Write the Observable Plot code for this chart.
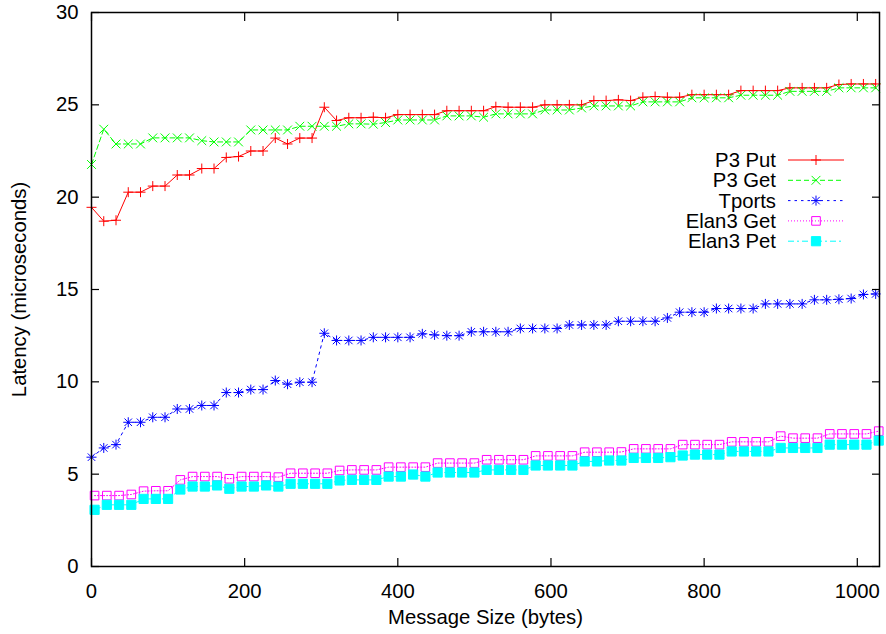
<!DOCTYPE html>
<html><head><meta charset="utf-8">
<script src="https://cdn.jsdelivr.net/npm/d3@7"></script>
<script src="https://cdn.jsdelivr.net/npm/@observablehq/plot@0.6"></script>
<style>
body{margin:0;background:#fff;}
#wrap{position:relative;width:886px;height:634px;font-family:"Liberation Sans",Arial,sans-serif;}
#legend{position:absolute;left:680px;top:150px;}
</style></head><body><div id="wrap"></div>
<script>
const sizes = [0,16,32,48,64,80,96,112,128,144,160,176,192,208,224,240,256,272,288,304,320,336,352,368,384,400,416,432,448,464,480,496,512,528,544,560,576,592,608,624,640,656,672,688,704,720,736,752,768,784,800,816,832,848,864,880,896,912,928,944,960,976,992,1008,1024];
const elanSizes = [4,20,36,52,68,84,100,116,132,148,164,180,196,212,228,244,260,276,292,308,324,340,356,372,388,404,420,436,452,468,484,500,516,532,548,564,580,596,612,628,644,660,676,692,708,724,740,756,772,788,804,820,836,852,868,884,900,916,932,948,964,980,996,1012,1028];

const p3Put = [19.45,18.7,18.75,20.27,20.27,20.6,20.6,21.2,21.2,21.55,21.55,22.15,22.2,22.5,22.5,23.2,22.88,23.2,23.2,24.87,24.15,24.3,24.3,24.33,24.3,24.47,24.47,24.47,24.47,24.68,24.68,24.68,24.68,24.9,24.87,24.87,24.87,25.0,25.0,25.0,25.0,25.23,25.23,25.27,25.23,25.41,25.45,25.41,25.41,25.55,25.55,25.55,25.55,25.77,25.77,25.77,25.77,25.92,25.92,25.92,25.92,26.1,26.13,26.13,26.13];
const p3Get = [21.77,23.68,22.88,22.88,22.88,23.21,23.21,23.21,23.21,23.06,22.99,22.99,22.99,23.64,23.64,23.64,23.64,23.84,23.84,23.84,23.84,23.97,23.97,23.95,24.04,24.18,24.18,24.18,24.18,24.4,24.4,24.4,24.33,24.51,24.51,24.51,24.51,24.72,24.72,24.72,24.83,24.94,24.94,24.94,24.94,25.16,25.16,25.16,25.16,25.38,25.38,25.38,25.38,25.52,25.52,25.52,25.52,25.73,25.73,25.73,25.73,25.92,25.92,25.92,25.92];
const tports = [5.92,6.42,6.6,7.81,7.81,8.08,8.08,8.53,8.53,8.72,8.72,9.42,9.42,9.58,9.58,10.07,9.87,9.98,9.98,12.63,12.24,12.24,12.24,12.41,12.41,12.41,12.41,12.6,12.54,12.5,12.5,12.71,12.71,12.71,12.71,12.89,12.89,12.89,12.89,13.08,13.08,13.08,13.08,13.28,13.28,13.28,13.28,13.46,13.77,13.77,13.77,13.97,13.97,13.97,13.97,14.22,14.22,14.22,14.22,14.44,14.44,14.47,14.51,14.73,14.76];
const elan3Get = [3.84,3.84,3.84,3.9,4.08,4.1,4.1,4.69,4.87,4.87,4.87,4.75,4.87,4.87,4.87,4.84,5.05,5.05,5.05,5.05,5.2,5.23,5.23,5.23,5.38,5.38,5.38,5.38,5.6,5.6,5.6,5.6,5.78,5.78,5.78,5.78,5.99,5.99,5.99,5.99,6.19,6.19,6.19,6.2,6.37,6.37,6.37,6.37,6.6,6.6,6.6,6.6,6.75,6.75,6.75,6.75,7.06,6.95,6.95,6.95,7.18,7.18,7.18,7.18,7.33];
const elan3Pet = [3.07,3.34,3.34,3.34,3.66,3.66,3.66,4.17,4.33,4.33,4.39,4.21,4.33,4.33,4.39,4.33,4.48,4.48,4.48,4.48,4.66,4.69,4.69,4.69,4.87,4.87,4.98,4.87,5.09,5.09,5.09,5.09,5.23,5.23,5.23,5.23,5.47,5.47,5.47,5.47,5.69,5.69,5.74,5.74,5.88,5.88,5.88,5.92,6.01,6.06,6.06,6.06,6.23,6.23,6.23,6.23,6.42,6.42,6.42,6.42,6.6,6.6,6.6,6.6,6.82];

const xTicks = [0,200,400,600,800,1000];
const yTicks = [0,5,10,15,20,25,30];
const seriesNames = ["P3 Put","P3 Get","Tports","Elan3 Get","Elan3 Pet"];

const FONT = '"Liberation Sans", Arial, sans-serif';
const FS = 20.3;

// custom gnuplot-like point symbols
const rad = s => Math.sqrt(s / Math.PI);
const symPlus = {draw(c, s){const r = rad(s); c.moveTo(-r,0); c.lineTo(r,0); c.moveTo(0,-r); c.lineTo(0,r);}};
const symTimes = {draw(c, s){const r = rad(s)*0.8; c.moveTo(-r,-r); c.lineTo(r,r); c.moveTo(-r,r); c.lineTo(r,-r);}};
const symAst = {draw(c, s){const r = rad(s), q = r*0.75; c.moveTo(-r,0); c.lineTo(r,0); c.moveTo(0,-r); c.lineTo(0,r); c.moveTo(-q,-q); c.lineTo(q,q); c.moveTo(-q,q); c.lineTo(q,-q);}};
const symSquare = {draw(c, s){const r = rad(s); c.rect(-r,-r,2*r,2*r);}};

const styles = [
  {color:"#ff0000", dash:null, sym:symPlus, r:5, fill:"none"},
  {color:"#00ff00", dash:"5,3", sym:symTimes, r:5.5, fill:"none"},
  {color:"#0000ff", dash:"2.5,4", sym:symAst, r:5, fill:"none"},
  {color:"#ff00ff", dash:"1,2", sym:symSquare, r:4.3, fill:"none"},
  {color:"#00ffff", dash:"6,3,2,3", sym:symSquare, r:4.6, fill:"#00ffff"}
];
const seriesX = [sizes, sizes, sizes, elanSizes, elanSizes];
const seriesY = [p3Put, p3Get, tports, elan3Get, elan3Pet];

const data = seriesNames.map((name, k) => seriesY[k].map((v, i) => ({series: name, size: seriesX[k][i], latency: v})));

const marks = [];
data.forEach((rows, k) => {
  const st = styles[k];
  marks.push(Plot.line(rows, {x:"size", y:"latency", stroke: st.color, strokeWidth: 1, strokeDasharray: st.dash}));
});
data.forEach((rows, k) => {
  const st = styles[k];
  marks.push(Plot.dot(rows, {x:"size", y:"latency", symbol: st.sym, r: st.r, stroke: st.color, fill: st.fill, strokeWidth: 1}));
});

const chart = Plot.plot({
  width: 886, height: 634,
  marginLeft: 91, marginRight: 7, marginTop: 12, marginBottom: 68,
  x: {domain: [0, 1029]},
  y: {domain: [0, 30]},
  style: {fontFamily: FONT, fontSize: FS + "px", background: "white", color: "black"},
  marks: [
    ...marks,
    Plot.axisX({ticks: xTicks, tickSize: -8, tickPadding: 25, strokeWidth: 1.2, tickFormat: d => String(d), fontSize: FS, label: "Message Size (bytes)", labelAnchor: "center", labelOffset: 57, labelArrow: "none"}),
    Plot.axisX({anchor: "top", ticks: xTicks, tickSize: -8, strokeWidth: 1.2, tickFormat: () => "", label: null}),
    Plot.axisY({ticks: yTicks, tickSize: -8, tickPadding: 21, strokeWidth: 1.2, tickFormat: d => String(d), fontSize: FS, label: "Latency (microseconds)", labelAnchor: "center", labelOffset: 80, labelArrow: "none"}),
    Plot.axisY({anchor: "right", ticks: yTicks, tickSize: -8, strokeWidth: 1.2, tickFormat: () => "", label: null}),
    Plot.frame({stroke: "black", strokeWidth: 1.5})
  ]
});
document.getElementById("wrap").appendChild(chart);

// legend (inside plot area, top right)
const lg = d3.select("#wrap").append("svg").attr("id","legend").attr("width",180).attr("height",105);
seriesNames.forEach((name, k) => {
  const st = styles[k];
  const yc = 10 + k * 20.3;
  lg.append("text").attr("x", 96).attr("y", yc).attr("dy", "0.35em").attr("text-anchor", "end")
    .attr("font-size", FS).attr("font-family", FONT).attr("fill", "black").text(name);
  lg.append("line").attr("x1", 108).attr("x2", 164).attr("y1", yc).attr("y2", yc)
    .attr("stroke", st.color).attr("stroke-width", 1).attr("stroke-dasharray", st.dash);
  lg.append("path").attr("transform", `translate(136,${yc})`)
    .attr("d", d3.symbol(st.sym, Math.PI * st.r * st.r)())
    .attr("stroke", st.color).attr("fill", st.fill).attr("stroke-width", 1);
});
</script></body></html>
